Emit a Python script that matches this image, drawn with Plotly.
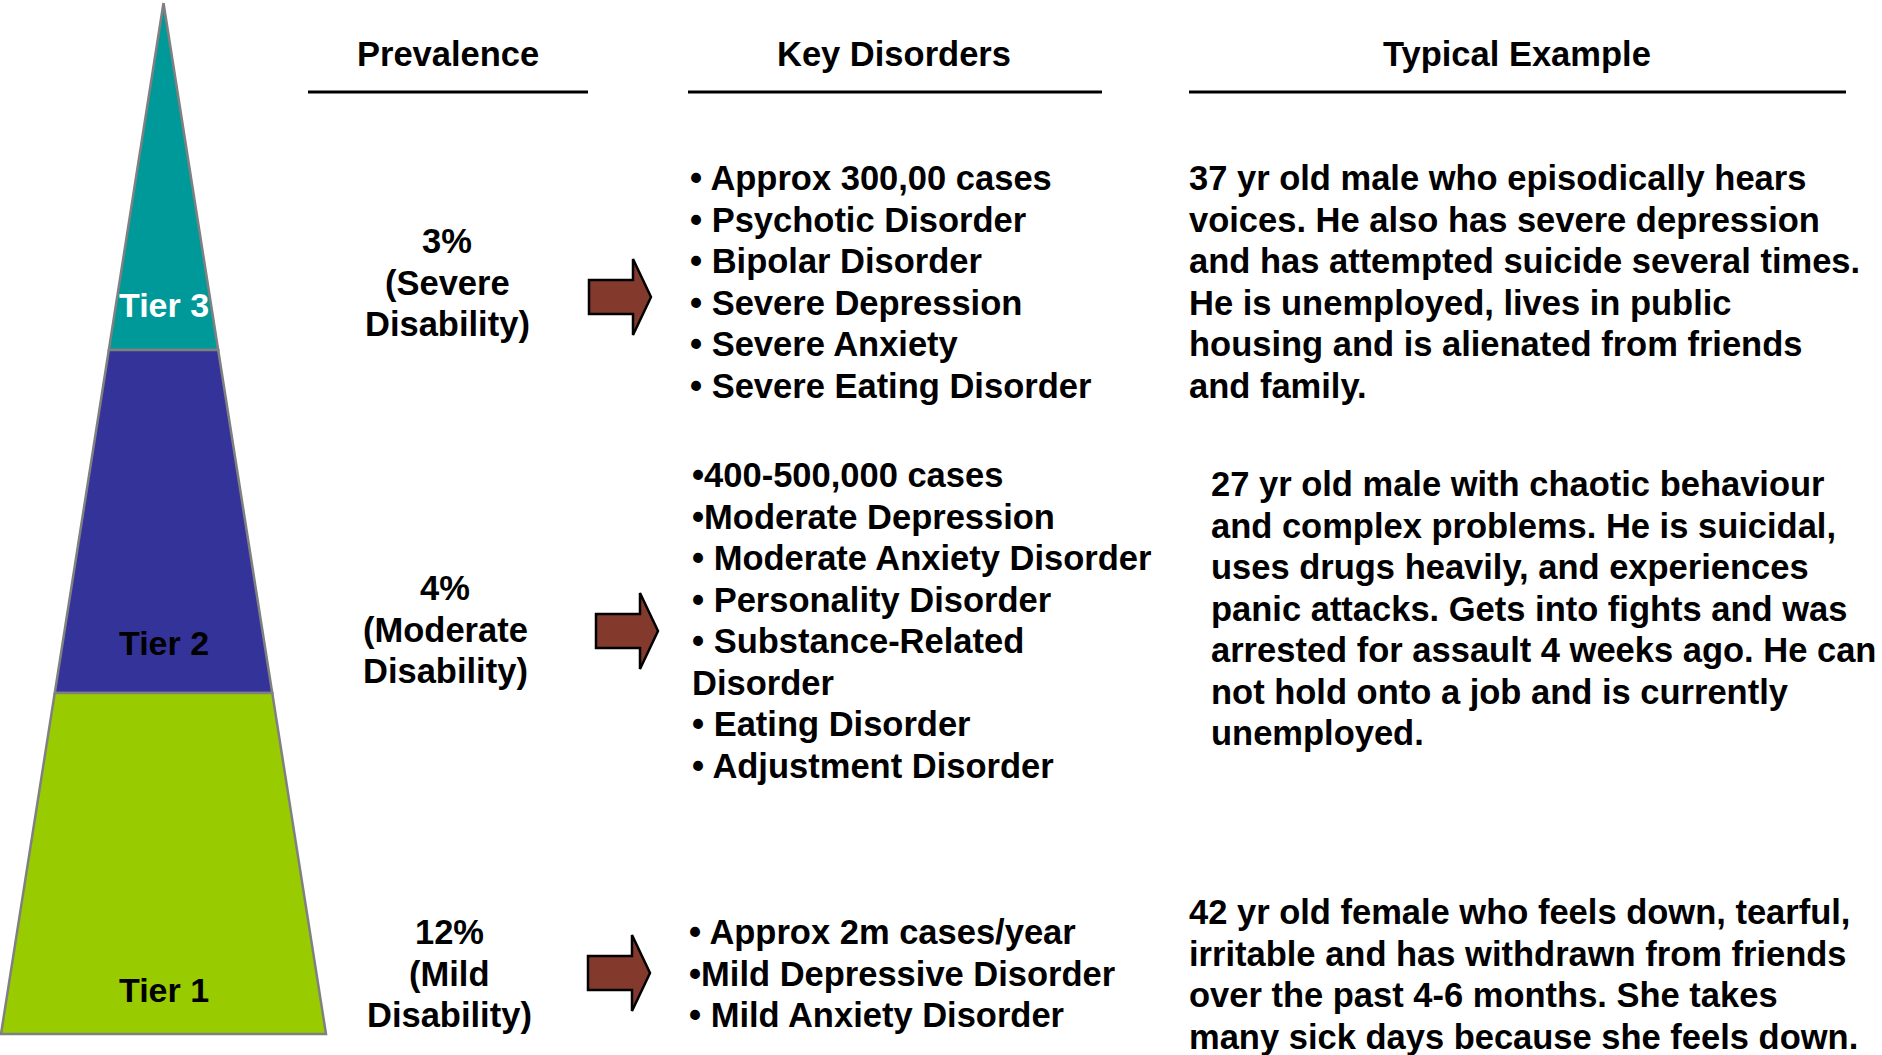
import plotly.graph_objects as go

# ---------------- data ----------------
tiers = ["Tier 3", "Tier 2", "Tier 1"]
tier_colors = ["#009999", "#333399", "#99CC00"]
tier_text_colors = ["#FFFFFF", "#000000", "#000000"]

headers = ["Prevalence", "Key Disorders", "Typical Example"]

prevalence = [
    ["3%", "(Severe", "Disability)"],
    ["4%", "(Moderate", "Disability)"],
    ["12%", "(Mild", "Disability)"],
]

disorders = [
    ["• Approx 300,00 cases", "• Psychotic Disorder", "• Bipolar Disorder",
     "• Severe Depression", "• Severe Anxiety", "• Severe Eating Disorder"],
    ["•400-500,000 cases", "•Moderate Depression", "• Moderate Anxiety Disorder",
     "• Personality Disorder", "• Substance-Related", "Disorder",
     "• Eating Disorder", "• Adjustment Disorder"],
    ["• Approx 2m cases/year", "•Mild Depressive Disorder", "• Mild Anxiety Disorder"],
]

examples = [
    ["37 yr old male who episodically hears",
     "voices. He also has severe depression",
     "and has attempted suicide several times.",
     "He is unemployed, lives in public",
     "housing and is alienated from friends",
     "and family."],
    ["27 yr old male with chaotic behaviour",
     "and complex problems. He is suicidal,",
     "uses drugs heavily, and experiences",
     "panic attacks. Gets into fights and was",
     "arrested for assault 4 weeks ago. He can",
     "not hold onto a job and is currently",
     "unemployed."],
    ["42 yr old female who feels down, tearful,",
     "irritable and has withdrawn from friends",
     "over the past 4-6 months. She takes",
     "many sick days because she feels down."],
]

# ---------------- layout geometry ----------------
W, H = 1882, 1055
FONT = "Liberation Sans, Arial, sans-serif"
FS = 34.5
LH = 41.5

apex = (163.5, 3)
bottom_y = 1034
bottom_hw = 162.5
bounds = [3, 350, 693, 1034]  # tier boundaries (top to bottom)


def hw(y):
    return bottom_hw * (y - apex[1]) / (bottom_y - apex[1])


fig = go.Figure()

cx = apex[0]
for i, name in enumerate(tiers):
    y0, y1 = bounds[i], bounds[i + 1]
    xs = [cx - hw(y0), cx + hw(y0), cx + hw(y1), cx - hw(y1), cx - hw(y0)]
    ys = [y0, y0, y1, y1, y0]
    fig.add_trace(go.Scatter(
        x=xs, y=ys, mode="lines", fill="toself", fillcolor=tier_colors[i],
        line=dict(color="#808080", width=2.5), hoverinfo="skip", showlegend=False,
        cliponaxis=False))

tier_label_y = [305, 643, 990]
for i, name in enumerate(tiers):
    fig.add_annotation(x=cx, y=tier_label_y[i], text=name, showarrow=False,
                       xanchor="center", yanchor="middle",
                       font=dict(family=FONT, size=34, color=tier_text_colors[i], weight="bold"))

# headers + underlines
header_x = [448, 894, 1517]
underlines = [(308, 588), (688, 1102), (1189, 1846)]
for hx, h in zip(header_x, headers):
    fig.add_annotation(x=hx, y=54, text=h, showarrow=False, xanchor="center", yanchor="middle",
                       font=dict(family=FONT, size=FS, color="#000000", weight="bold"))
for x0, x1 in underlines:
    fig.add_shape(type="line", x0=x0, x1=x1, y0=92, y1=92, xref="x", yref="y",
                  line=dict(color="#000000", width=3))

# prevalence blocks
prev_x = [447, 445, 449]
prev_y0 = [241, 588, 932]
for i, lines in enumerate(prevalence):
    for j, t in enumerate(lines):
        fig.add_annotation(x=prev_x[i], y=prev_y0[i] + j * LH, text=t, showarrow=False,
                           xanchor="center", yanchor="middle",
                           font=dict(family=FONT, size=FS, color="#000000", weight="bold"))

# arrows
arrow_left = [589, 596, 588]
arrow_cy = [297, 631, 973]
for ax, ay in zip(arrow_left, arrow_cy):
    L, bh, hh, hl = 62, 17, 38, 18
    p = (f"M {ax},{ay-bh} L {ax+L-hl},{ay-bh} L {ax+L-hl},{ay-hh} L {ax+L},{ay} "
         f"L {ax+L-hl},{ay+hh} L {ax+L-hl},{ay+bh} L {ax},{ay+bh} Z")
    fig.add_shape(type="path", path=p, xref="x", yref="y", fillcolor="#833A2D",
                  line=dict(color="#000000", width=2.5))

# key disorders
dis_x = [688, 690, 687]
dis_y0 = [178, 475, 932]
for i, lines in enumerate(disorders):
    for j, t in enumerate(lines):
        fig.add_annotation(x=dis_x[i], y=dis_y0[i] + j * LH, text=t, showarrow=False,
                           xanchor="left", yanchor="middle",
                           font=dict(family=FONT, size=FS, color="#000000", weight="bold"))

# typical examples
ex_x = [1187, 1209, 1187]
ex_y0 = [178, 484, 912]
for i, lines in enumerate(examples):
    for j, t in enumerate(lines):
        fig.add_annotation(x=ex_x[i], y=ex_y0[i] + j * LH, text=t, showarrow=False,
                           xanchor="left", yanchor="middle",
                           font=dict(family=FONT, size=FS, color="#000000", weight="bold"))

fig.update_layout(
    width=W, height=H, autosize=False,
    margin=dict(l=0, r=0, t=0, b=0, pad=0),
    paper_bgcolor="#FFFFFF", plot_bgcolor="#FFFFFF",
    xaxis=dict(range=[0, W], visible=False, fixedrange=True),
    yaxis=dict(range=[H, 0], visible=False, fixedrange=True),
    showlegend=False,
)

fig.write_html("out.html", config={"displayModeBar": False},
               post_script="document.body.style.margin='0px';document.body.style.overflow='hidden';")
